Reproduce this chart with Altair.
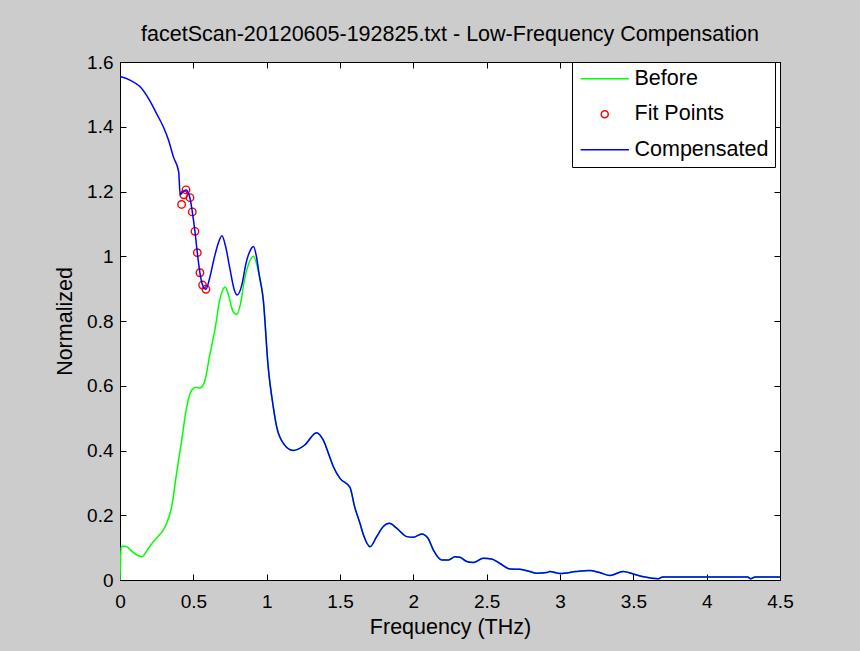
import altair as alt
import pandas as pd

# ---------------- data ----------------
before_head_f = [0.0, 0.008, 0.02, 0.045, 0.09, 0.148, 0.19, 0.227, 0.26, 0.295, 0.33, 0.352,
                 0.386, 0.42, 0.455, 0.49, 0.52, 0.545, 0.58, 0.61, 0.65, 0.68, 0.70, 0.716,
                 0.74, 0.77, 0.795, 0.82, 0.85, 0.88, 0.91, 0.94]
before_head_v = [0.0, 0.10, 0.105, 0.103, 0.085, 0.072, 0.095, 0.118, 0.135, 0.154, 0.19, 0.226,
                 0.33, 0.43, 0.535, 0.587, 0.595, 0.593, 0.618, 0.69, 0.78, 0.865, 0.895, 0.905,
                 0.88, 0.83, 0.82, 0.85, 0.93, 0.98, 1.0, 0.96]

comp_head_f = [0.0, 0.068, 0.136, 0.2, 0.25, 0.295, 0.33, 0.364, 0.40, 0.41, 0.43, 0.45, 0.477,
               0.493, 0.511, 0.527, 0.545, 0.563, 0.586, 0.61, 0.64, 0.67, 0.695, 0.72, 0.75,
               0.78, 0.80, 0.83, 0.86, 0.89, 0.91, 0.93, 0.95]
comp_head_v = [1.555, 1.544, 1.524, 1.483, 1.44, 1.40, 1.36, 1.307, 1.261, 1.19, 1.20, 1.205, 1.18,
               1.137, 1.077, 1.011, 0.949, 0.911, 0.898, 0.93, 0.99, 1.04, 1.063, 1.03, 0.96,
               0.895, 0.88, 0.91, 0.98, 1.02, 1.03, 1.0, 0.94]

# shared tail (both curves coincide above ~1 THz)
tail_f = [0.977, 1.01, 1.045, 1.068, 1.114, 1.18, 1.26, 1.34, 1.386, 1.43, 1.455, 1.5, 1.568,
          1.60, 1.636, 1.66, 1.705, 1.75, 1.795, 1.836, 1.886, 1.955, 2.0, 2.057, 2.10, 2.136,
          2.193, 2.24, 2.284, 2.318, 2.364, 2.41, 2.477, 2.534, 2.59, 2.66, 2.727, 2.795, 2.84,
          2.91, 2.93, 3.0, 3.11, 3.2, 3.27, 3.34, 3.43, 3.5, 3.57, 3.67, 3.70, 4.28, 4.3, 4.33, 4.5]
tail_v = [0.865, 0.66, 0.535, 0.474, 0.422, 0.40, 0.417, 0.455, 0.432, 0.38, 0.35, 0.314, 0.286,
          0.226, 0.175, 0.139, 0.103, 0.134, 0.165, 0.175, 0.16, 0.134, 0.132, 0.142, 0.129, 0.093,
          0.062, 0.062, 0.072, 0.07, 0.057, 0.054, 0.067, 0.065, 0.051, 0.034, 0.033, 0.026, 0.021,
          0.023, 0.026, 0.02, 0.026, 0.029, 0.023, 0.014, 0.026, 0.0185, 0.01, 0.004, 0.009, 0.009,
          0.004, 0.009, 0.009]

fit_f = [0.42, 0.435, 0.45, 0.477, 0.493, 0.511, 0.527, 0.545, 0.563, 0.586]
fit_v = [1.16, 1.19, 1.205, 1.181, 1.137, 1.077, 1.011, 0.949, 0.911, 0.898]

series_names = ["Before", "Fit Points", "Compensated"]
series_colors = ["#00ff00", "#ff0000", "#0000ff"]
x_ticks = [0, 0.5, 1, 1.5, 2, 2.5, 3, 3.5, 4, 4.5]
y_ticks = [0, 0.2, 0.4, 0.6, 0.8, 1.0, 1.2, 1.4, 1.6]

TITLE = "facetScan-20120605-192825.txt - Low-Frequency Compensation"
FONT = "Liberation Sans"
LINE_SYMBOL = "M-6.9,0L6.9,0"

# ---------------- tables ----------------
before_df = pd.DataFrame({"freq": before_head_f + tail_f, "value": before_head_v + tail_v,
                          "series": "Before"})
comp_df = pd.DataFrame({"freq": comp_head_f + tail_f, "value": comp_head_v + tail_v,
                        "series": "Compensated"})
fit_df = pd.DataFrame({"freq": fit_f, "value": fit_v, "series": "Fit Points"})

xscale = alt.Scale(domain=[0, 4.5], nice=False, zero=False)
yscale = alt.Scale(domain=[0, 1.6], nice=False)

color = alt.Color("series:N", scale=alt.Scale(domain=series_names, range=series_colors),
                  legend=alt.Legend(title=None))

common_axis = dict(domain=False, grid=False, tickColor="black", tickWidth=1, tickSize=6, offset=-6)

x_bottom = alt.Axis(orient="bottom", values=x_ticks, format="~g", labelPadding=12,
                    labelFont=FONT, labelFontSize=19, labelColor="black", labelFlush=False,
                    labelOverlap=False,
                    title="Frequency (THz)", titleFont=FONT, titleFontSize=21.5, titleColor="black",
                    titleFontWeight="normal", titleY=53, titleBaseline="middle", **common_axis)
y_left = alt.Axis(orient="left", values=y_ticks, format="~g", labelPadding=7,
                  labelFont=FONT, labelFontSize=19, labelColor="black", labelOverlap=False,
                  title="Normalized", titleFont=FONT, titleFontSize=21.5, titleColor="black",
                  titleFontWeight="normal", titleX=-61, titleY=259, titleAngle=270,
                  titleBaseline="middle", titleAlign="center", **common_axis)
x_top = alt.Axis(orient="top", values=x_ticks, labels=False, title=None, **common_axis)
y_right = alt.Axis(orient="right", values=y_ticks, labels=False, title=None, **common_axis)

before_line = alt.Chart(before_df).mark_line(strokeWidth=1.5, interpolate="monotone", clip=True).encode(
    x=alt.X("freq:Q", scale=xscale, axis=x_bottom),
    y=alt.Y("value:Q", scale=yscale, axis=y_left),
    color=color,
)

fit_points = alt.Chart(fit_df).mark_point(filled=False, size=56, strokeWidth=1.4, opacity=1).encode(
    x=alt.X("freq:Q", scale=xscale, axis=None),
    y=alt.Y("value:Q", scale=yscale, axis=None),
    color=color,
    shape=alt.Shape("series:N", scale=alt.Scale(domain=series_names,
                                                 range=[LINE_SYMBOL, "circle", LINE_SYMBOL]),
                     legend=alt.Legend(title=None)),
)

comp_line = alt.Chart(comp_df).mark_line(strokeWidth=1.5, interpolate="monotone", clip=True).encode(
    x=alt.X("freq:Q", scale=xscale, axis=x_top),
    y=alt.Y("value:Q", scale=yscale, axis=y_right),
    color=color,
)

chart = alt.layer(before_line, fit_points, comp_line).resolve_axis(
    x="independent", y="independent"
).properties(
    width=660,
    height=518,
    padding={"left": 120, "top": 62, "right": 80, "bottom": 71},
    autosize=alt.AutoSizeParams(type="none"),
    background="#cccccc",
    title=alt.TitleParams(TITLE, font=FONT, fontSize=21.5, fontWeight="normal", color="black",
                          anchor="middle", offset=8),
).configure_view(
    stroke="black", strokeWidth=1, fill="white"
).configure_legend(
    orient="none", legendX=452, legendY=0, fillColor="white", strokeColor="black",
    padding=6, symbolSize=49, symbolStrokeWidth=1.5, symbolOffset=16, labelOffset=19,
    rowPadding=12.5, labelFont=FONT, labelFontSize=21.5, labelColor="black",
    symbolFillColor="transparent", cornerRadius=0,
)

chart.save("out.html", embed_options={"renderer": "svg", "actions": False})
